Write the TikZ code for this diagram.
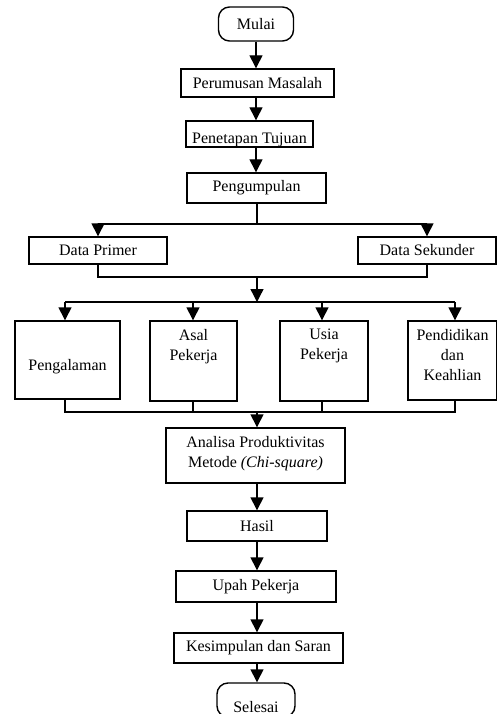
\documentclass[tikz,border=0pt]{standalone}
\usepackage{fontspec}
\setmainfont{Liberation Serif}
\usetikzlibrary{arrows.meta,calc}
\begin{document}
\begin{tikzpicture}[x=1pt,y=-1pt,
  box/.style={draw,line width=1.4pt,inner sep=0pt,font=\fontsize{16}{20}\selectfont},
  term/.style={box,rounded corners=11pt},
  txt/.style={inner sep=0pt,align=center,font=\fontsize{16}{20}\selectfont},
  arr/.style={line width=1.4pt,-{Triangle[width=13pt,length=13pt]}},
  ln/.style={line width=1.4pt}]
\useasboundingbox (0,0) rectangle (497,714);
\clip (0,0) rectangle (497,714);
% top column
\node[term,minimum width=75pt,minimum height=34pt] (mulai) at (256,24) {Mulai};
\node[box,minimum width=153pt,minimum height=28pt] (perumusan) at (257.5,83) {Perumusan Masalah};
\node[box,minimum width=127pt,minimum height=26pt] (penetapan) at (249.5,134) {};
\begin{scope}
\clip (penetapan.south west) rectangle (penetapan.north east);
\node[txt,anchor=base] (penetapantxt) at (249.5,143.5) {Penetapan Tujuan};
\end{scope}
\node[box,minimum width=139pt,minimum height=30pt] (pengumpulan) at (256.5,188) {Pengumpulan};
\draw[arr] (mulai.south) -- (mulai.south |- perumusan.north);
\draw[arr] (perumusan.south -| mulai.south) -- (mulai.south |- penetapan.north);
\draw[arr] (penetapan.south -| mulai.south) -- (mulai.south |- pengumpulan.north);
% data
\node[box,minimum width=138pt,minimum height=27pt] (primer) at (98,250.5) {Data Primer};
\node[box,minimum width=138pt,minimum height=27pt] (sekunder) at (427,250.5) {Data Sekunder};
\coordinate (j1) at (257,224);
\draw[ln] (pengumpulan.south -| j1) -- (j1);
\draw[arr] (j1) -| (primer.north);
\draw[arr] (j1) -| (sekunder.north);
\coordinate (j2) at (257,277);
\draw[ln] (primer.south) |- (j2) -| (sekunder.south);
\coordinate (j3) at (257,302);
\draw[arr] (j2) -- (j3);
% four boxes
\node[box,minimum width=105pt,minimum height=78pt] (pengalaman) at (67.5,360) {};
\node[txt] (pengalamantxt) at (67.5,367) {Pengalaman};
\node[box,minimum width=87pt,minimum height=80pt] (asal) at (193.5,361) {};
\node[txt,anchor=north] (asaltxt) at (193.5,329) {Asal\\Pekerja};
\node[box,minimum width=88pt,minimum height=80pt] (usia) at (324,361) {};
\node[txt,anchor=north] (usiatxt) at (324,329) {Usia\\Pekerja};
\node[box,minimum width=89pt,minimum height=79pt] (pendidikan) at (452.5,360.5) {};
\node[txt,anchor=north] (pendidikantxt) at (452.5,329) {Pendidikan\\dan\\Keahlian};
\coordinate (b1) at (65,302);
\coordinate (b2) at (193,302);
\coordinate (b3) at (322,302);
\coordinate (b4) at (455,302);
\draw[ln] (b1) -- (b4);
\draw[arr] (b1) -- (b1 |- pengalaman.north);
\draw[arr] (b2) -- (b2 |- asal.north);
\draw[arr] (b3) -- (b3 |- usia.north);
\draw[arr] (b4) -- (b4 |- pendidikan.north);
\coordinate (c1) at (65,412);
\coordinate (c4) at (455,412);
\draw[ln] (b1 |- pengalaman.south) -- (c1) -- (c4) -- (b4 |- pendidikan.south);
\draw[ln] (b2 |- asal.south) -- (b2 |- c1);
\draw[ln] (b3 |- usia.south) -- (b3 |- c1);
\coordinate (c0) at (257,412);
% lower column
\node[box,minimum width=179pt,minimum height=55pt] (analisa) at (255.5,455.5) {};
\node[txt,anchor=north] (analisatxt) at (255.5,436) {Analisa Produktivitas\\Metode \textit{(Chi-square)}};
\draw[arr] (c0) -- (c0 |- analisa.north);
\node[box,minimum width=140pt,minimum height=30pt] (hasil) at (257,526) {Hasil};
\node[box,minimum width=160pt,minimum height=31pt] (upah) at (256,586.5) {Upah Pekerja};
\node[box,minimum width=169pt,minimum height=30pt] (kesimpulan) at (258.5,648) {Kesimpulan dan Saran};
\node[term,minimum width=78pt,minimum height=34pt] (selesai) at (256,700) {};
\node[txt] (selesaitxt) at (256,707) {Selesai};
\draw[arr] (c0 |- analisa.south) -- (c0 |- hasil.north);
\draw[arr] (c0 |- hasil.south) -- (c0 |- upah.north);
\draw[arr] (c0 |- upah.south) -- (c0 |- kesimpulan.north);
\draw[arr] (c0 |- kesimpulan.south) -- (c0 |- selesai.north);
\end{tikzpicture}
\end{document}
